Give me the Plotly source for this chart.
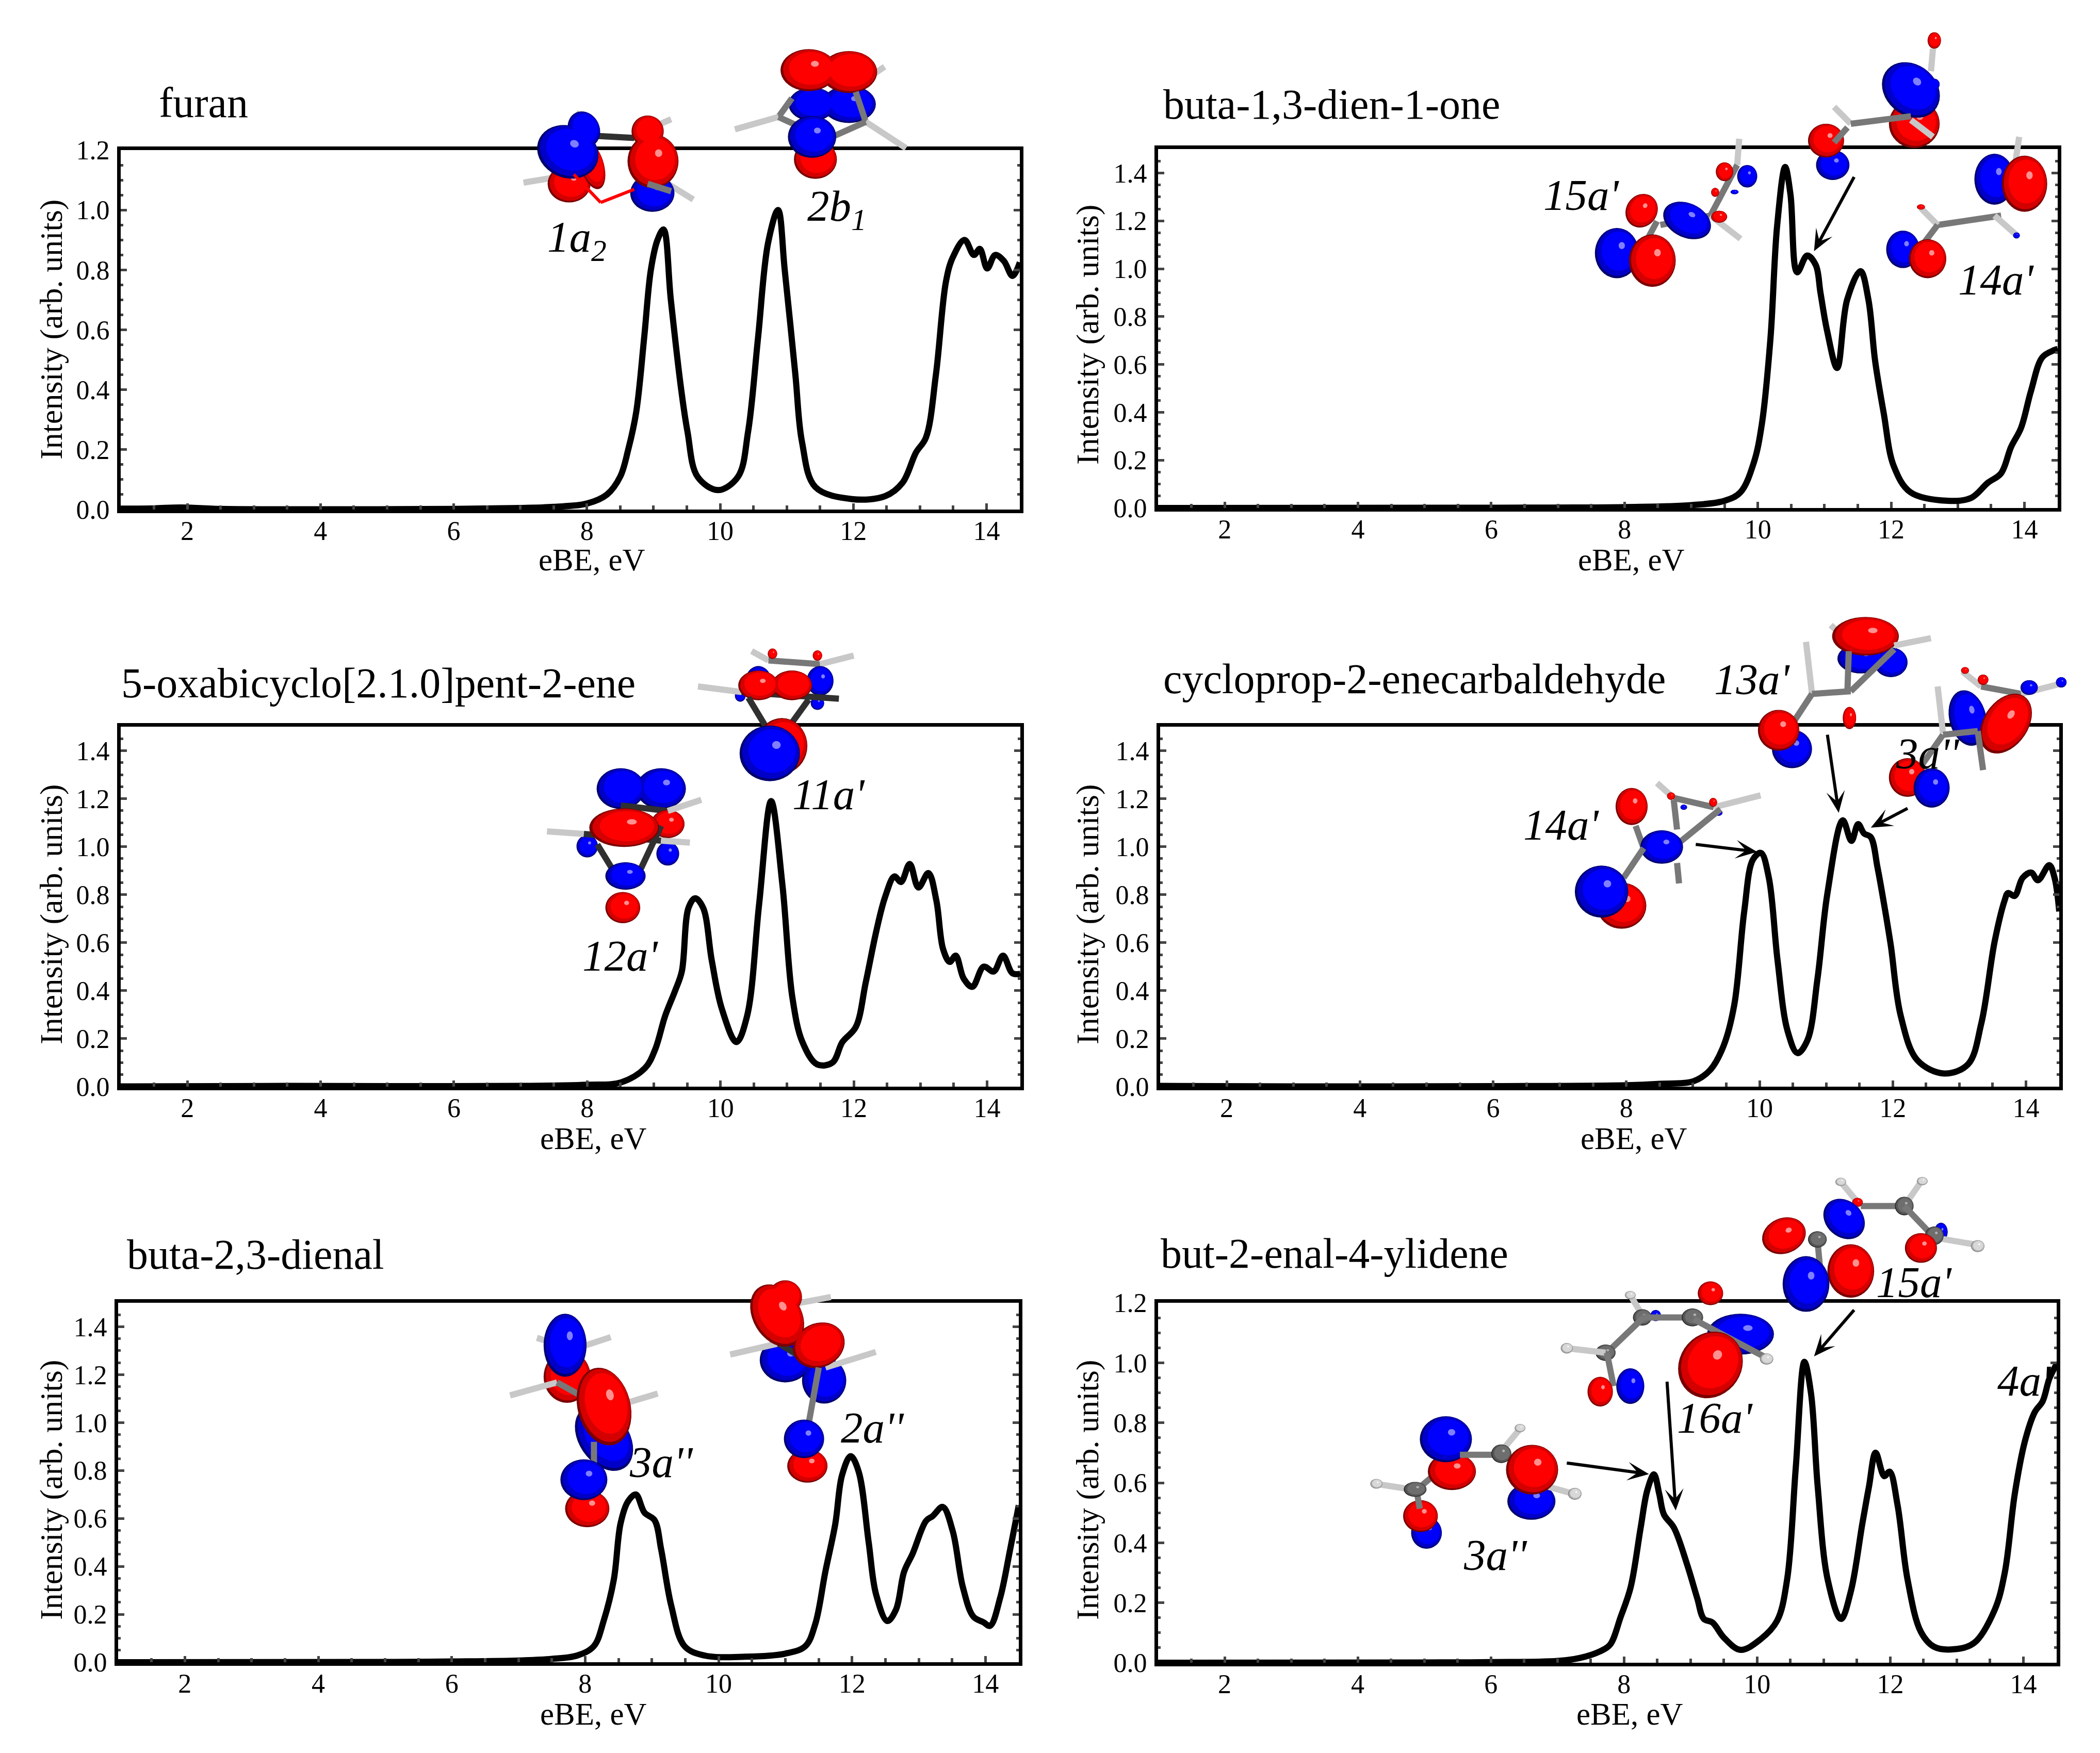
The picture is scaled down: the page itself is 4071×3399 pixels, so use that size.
import numpy as np
import plotly.graph_objects as go

W = 4071
H = 3399

# spectra (eBE in eV, intensity in arb. units)
furan_x = [1, 1.5, 1.9, 2.5, 4, 6, 7, 7.5, 8, 8.3, 8.5, 8.62, 8.74, 8.86, 8.96, 9.06, 9.15, 9.26, 9.41, 9.51, 9.66, 9.97, 10.27, 10.42, 10.57, 10.72, 10.87, 10.97, 11.13, 11.23, 11.43, 11.98, 12.48, 12.74, 12.94, 13.09, 13.24, 13.39, 13.49, 13.67, 13.81, 13.9, 14.01, 14.13, 14.26, 14.39, 14.5]
furan_y = [0.003, 0.004, 0.007, 0.002, 0.001, 0.002, 0.005, 0.009, 0.02, 0.05, 0.11, 0.2, 0.325, 0.575, 0.8, 0.9, 0.935, 0.7, 0.41, 0.26, 0.11, 0.065, 0.11, 0.26, 0.575, 0.89, 1.0, 0.8, 0.45, 0.225, 0.075, 0.035, 0.045, 0.09, 0.19, 0.24, 0.45, 0.76, 0.84, 0.9, 0.85, 0.87, 0.805, 0.85, 0.83, 0.78, 0.825]

butadienone_x = [1, 6, 8, 9, 9.5, 9.74, 9.94, 10.06, 10.19, 10.29, 10.41, 10.49, 10.59, 10.74, 10.87, 10.94, 11.04, 11.19, 11.34, 11.54, 11.66, 11.76, 11.89, 12.04, 12.29, 12.85, 13.2, 13.45, 13.65, 13.8, 13.95, 14.1, 14.27, 14.45, 14.5]
butadienone_y = [0.0, 0.001, 0.004, 0.012, 0.03, 0.066, 0.19, 0.35, 0.71, 1.18, 1.425, 1.31, 0.985, 1.055, 1.015, 0.9, 0.74, 0.585, 0.87, 0.99, 0.87, 0.615, 0.395, 0.175, 0.066, 0.03, 0.042, 0.105, 0.145, 0.255, 0.335, 0.49, 0.63, 0.66, 0.665]

oxabicyclo_x = [1, 3.5, 5, 7, 8, 8.51, 8.87, 9.02, 9.17, 9.32, 9.42, 9.52, 9.62, 9.74, 9.87, 10.02, 10.24, 10.4, 10.58, 10.76, 10.93, 11.08, 11.23, 11.45, 11.68, 11.83, 12.03, 12.18, 12.34, 12.47, 12.61, 12.71, 12.84, 12.97, 13.12, 13.24, 13.34, 13.44, 13.53, 13.65, 13.78, 13.95, 14.1, 14.24, 14.38, 14.5]
oxabicyclo_y = [0.001, 0.003, 0.002, 0.003, 0.008, 0.018, 0.078, 0.155, 0.295, 0.4, 0.48, 0.745, 0.785, 0.745, 0.525, 0.325, 0.186, 0.295, 0.76, 1.19, 0.84, 0.37, 0.186, 0.093, 0.1, 0.186, 0.248, 0.434, 0.65, 0.79, 0.876, 0.853, 0.928, 0.83, 0.89, 0.775, 0.574, 0.52, 0.546, 0.45, 0.416, 0.5, 0.48, 0.546, 0.473, 0.47]

cyclopropene_x = [1, 3, 6, 8, 8.5, 9.01, 9.26, 9.46, 9.62, 9.77, 9.9, 10.02, 10.14, 10.27, 10.42, 10.57, 10.72, 10.87, 11.02, 11.25, 11.38, 11.48, 11.57, 11.67, 11.77, 11.87, 11.97, 12.12, 12.37, 12.77, 13.13, 13.33, 13.53, 13.68, 13.73, 13.83, 13.95, 14.08, 14.18, 14.35, 14.43, 14.5]
cyclopropene_y = [0.003, 0.001, 0.002, 0.006, 0.012, 0.023, 0.07, 0.17, 0.34, 0.73, 0.946, 0.974, 0.87, 0.527, 0.233, 0.14, 0.194, 0.45, 0.807, 1.11, 1.024, 1.094, 1.055, 1.04, 0.915, 0.76, 0.59, 0.295, 0.11, 0.055, 0.093, 0.264, 0.605, 0.776, 0.807, 0.795, 0.87, 0.892, 0.86, 0.923, 0.87, 0.73]

butadienal_x = [1, 5, 6, 7, 7.5, 7.88, 8.13, 8.28, 8.43, 8.53, 8.64, 8.76, 8.89, 9.04, 9.14, 9.29, 9.49, 9.79, 10.4, 11, 11.3, 11.45, 11.6, 11.75, 11.85, 11.98, 12.1, 12.25, 12.36, 12.53, 12.66, 12.78, 12.91, 13.11, 13.21, 13.36, 13.51, 13.66, 13.82, 13.97, 14.07, 14.22, 14.37, 14.5]
butadienal_y = [0.0, 0.001, 0.003, 0.007, 0.014, 0.028, 0.067, 0.175, 0.345, 0.578, 0.67, 0.7, 0.624, 0.593, 0.47, 0.237, 0.067, 0.028, 0.023, 0.036, 0.067, 0.16, 0.377, 0.578, 0.78, 0.86, 0.795, 0.5, 0.284, 0.172, 0.22, 0.377, 0.454, 0.59, 0.61, 0.648, 0.547, 0.315, 0.19, 0.167, 0.152, 0.268, 0.47, 0.655]

butenal_x = [1, 5, 6, 7, 7.34, 7.64, 7.79, 7.95, 8.1, 8.25, 8.35, 8.45, 8.53, 8.6, 8.75, 8.95, 9.1, 9.2, 9.33, 9.5, 9.75, 10.05, 10.3, 10.45, 10.58, 10.71, 10.81, 10.91, 11.06, 11.26, 11.41, 11.58, 11.68, 11.78, 11.91, 11.99, 12.11, 12.26, 12.46, 12.66, 12.96, 13.26, 13.57, 13.72, 13.87, 14.02, 14.17, 14.29, 14.39, 14.5]
butenal_y = [0.0, 0.001, 0.002, 0.006, 0.016, 0.038, 0.06, 0.153, 0.252, 0.45, 0.575, 0.628, 0.562, 0.494, 0.45, 0.326, 0.215, 0.146, 0.134, 0.084, 0.043, 0.078, 0.14, 0.277, 0.649, 1.003, 0.897, 0.587, 0.277, 0.146, 0.24, 0.463, 0.587, 0.7, 0.622, 0.637, 0.525, 0.277, 0.103, 0.053, 0.045, 0.066, 0.177, 0.3, 0.562, 0.736, 0.835, 0.872, 0.947, 0.996]

names = ["furan", "buta-1,3-dien-1-one", "5-oxabicyclo[2.1.0]pent-2-ene",
         "cycloprop-2-enecarbaldehyde", "buta-2,3-dienal", "but-2-enal-4-ylidene"]
xs = [furan_x, butadienone_x, oxabicyclo_x, cyclopropene_x, butadienal_x, butenal_x]
ys = [furan_y, butadienone_y, oxabicyclo_y, cyclopropene_y, butadienal_y, butenal_y]
ymax = [1.2, 1.5, 1.5, 1.5, 1.5, 1.2]

# frame of each panel in page pixels: left, right, top, bottom
frames = [(234, 1977, 291, 988), (2245, 3989, 289, 985), (234, 1978, 1409, 2107),
          (2249, 3992, 1409, 2107), (229, 1975, 2526, 3223), (2245, 3987, 2526, 3224)]
title_pos = [(306, 200), (2253, 203), (233, 1325), (2253, 1316), (244, 2432), (2248, 2430)]
xtitle_pos = [(1147, 1085), (3162, 1085), (1150, 2207), (3167, 2207), (1150, 3323), (3159, 3323)]
ytitle_pos = [(99, 639), (2108, 649), (99, 1773), (2108, 1773), (99, 2889), (2108, 2889)]

# orbital drawings are placed per panel in a 1568x1568 sketch space stretched over the panel's cell
cells = [(0, 0, 2040, 1140), (2040, 0, 2031, 1140), (0, 1140, 2040, 1130),
         (2040, 1140, 2031, 1130), (0, 2270, 2040, 1129), (2040, 2270, 2031, 1129)]

labels = [
    [("1a<sub>2</sub>", 860, 640), ("2b<sub>1</sub>", 1247, 558)],
    [("15a'", 792, 520), ("14a'", 1413, 745)],
    [("12a'", 925, 990), ("11a'", 1235, 555)],
    [("13a'", 1048, 245), ("3a''", 1310, 445), ("14a'", 762, 637)],
    [("3a''", 985, 785), ("2a''", 1300, 692)],
    [("16a'", 992, 665), ("15a'", 1290, 300), ("3a''", 663, 1035), ("4a'", 1455, 565)],
]

arrows = [
    [],
    [(1200, 472, 1140, 670)],
    [],
    [(963, 690, 1055, 710), (1160, 395, 1177, 605), (1280, 593, 1225, 645)],
    [],
    [(770, 787, 893, 817), (920, 568, 933, 915), (1200, 375, 1140, 500)],
]

# r/b = orbital lobe, a = carbon ball, h = hydrogen ball: (kind, [(cx, cy, rx, ry, tilt), ...])
# several ellipses in one entry melt into a single lobe
# s = stick: ("s", x0, y0, x1, y1, colour key)
sketches = [
    [
        ("s", 855, 465, 780, 487, "w"), ("s", 995, 490, 1033, 532, "w"), ("s", 965, 345, 1000, 318, "w"),
        ("s", 880, 335, 858, 300, "w"), ("r", [(848, 490, 32, 50, 0)]), ("r", [(882, 440, 18, 65, 8)]),
        ("b", [(972, 515, 33, 50, 0)]), ("s", 885, 362, 945, 368, "k"),
        ("b", [(870, 345, 24, 48, 5), (846, 405, 45, 72, 8)]), ("s", 855, 465, 895, 540, "o"), ("s", 895, 540, 945, 505, "o"),
        ("r", [(965, 350, 24, 42, 0), (973, 430, 38, 72, 0)]), ("s", 965, 490, 1000, 510, "g"),
        ("b", [(1210, 278, 35, 45, 0), (1265, 278, 40, 50, 0)]), ("s", 1300, 200, 1318, 178, "w"),
        ("r", [(1205, 187, 42, 56, 0), (1265, 192, 42, 56, 0)]),
        ("s", 1180, 262, 1160, 312, "g"), ("s", 1275, 245, 1290, 325, "g"), ("s", 1160, 312, 1095, 345, "w"),
        ("s", 1290, 325, 1350, 395, "w"), ("s", 1160, 312, 1200, 345, "g"), ("s", 1240, 365, 1290, 325, "g"),
        ("r", [(1215, 425, 32, 52, 0)]), ("b", [(1210, 365, 36, 56, 0)]),
    ],
    [
        ("s", 1028, 370, 1025, 440, "w"), ("s", 1025, 440, 985, 575, "g"), ("s", 985, 575, 910, 600, "g"),
        ("s", 985, 575, 1030, 637, "w"), ("b", [(1040, 470, 15, 30, 0)]), ("r", [(1006, 458, 13, 25, 0)]),
        ("r", [(992, 513, 6, 12, 0)]), ("b", [(1021, 512, 6, 6, 0)]), ("r", [(998, 578, 12, 16, 0)]),
        ("r", [(882, 562, 24, 45, -5)]), ("b", [(950, 588, 33, 52, 20)]), ("s", 905, 590, 890, 640, "g"),
        ("b", [(845, 675, 33, 67, 0)]), ("r", [(898, 695, 35, 70, 0)]),
        ("s", 1318, 130, 1315, 190, "w"), ("r", [(1320, 108, 10, 22, 0)]), ("r", [(1290, 330, 38, 65, 0)]),
        ("b", [(1320, 225, 8, 15, 0), (1285, 240, 42, 75, 10)]), ("s", 1170, 285, 1195, 330, "w"),
        ("s", 1195, 330, 1285, 310, "g"), ("s", 1285, 320, 1318, 365, "w"), ("b", [(1168, 440, 25, 40, 0)]),
        ("r", [(1158, 375, 27, 45, 0)]), ("s", 1190, 340, 1170, 380, "g"),
        ("s", 1447, 365, 1440, 450, "w"), ("b", [(1410, 478, 30, 68, 0)]), ("r", [(1455, 490, 34, 75, 0)]),
        ("s", 1420, 575, 1325, 600, "g"), ("s", 1410, 575, 1445, 630, "w"), ("b", [(1443, 628, 5, 8, 0)]),
        ("s", 1325, 600, 1300, 555, "w"), ("r", [(1300, 552, 6, 7, 0)]), ("s", 1325, 600, 1295, 670, "g"),
        ("b", [(1273, 665, 25, 50, 0)]), ("r", [(1310, 690, 28, 52, 0)]),
    ],
    [
        ("b", [(925, 540, 36, 55, 0), (985, 540, 37, 55, 0)]), ("s", 925, 585, 995, 600, "k"), ("r", [(995, 635, 25, 38, 0)]),
        ("b", [(875, 695, 16, 30, 0)]), ("b", [(995, 715, 17, 32, 0)]), ("s", 815, 655, 870, 662, "w"),
        ("s", 870, 662, 985, 680, "k"), ("s", 985, 680, 1028, 685, "w"), ("s", 995, 600, 1045, 570, "w"),
        ("s", 890, 690, 912, 755, "k"), ("s", 985, 640, 955, 755, "k"), ("r", [(930, 645, 52, 52, 0)]),
        ("b", [(932, 775, 30, 37, 0)]), ("r", [(928, 860, 26, 42, 0)]),
        ("s", 1120, 170, 1145, 195, "w"), ("s", 1145, 195, 1222, 205, "g"), ("s", 1222, 205, 1272, 182, "w"),
        ("r", [(1151, 177, 7, 14, 0)]), ("r", [(1218, 182, 7, 14, 0)]), ("b", [(1130, 255, 20, 45, 0)]),
        ("b", [(1222, 250, 20, 40, 0)]), ("b", [(1218, 310, 10, 18, 0)]), ("b", [(1103, 290, 8, 16, 0)]),
        ("s", 1040, 265, 1105, 280, "w"), ("s", 1105, 280, 1250, 298, "k"),
        ("r", [(1130, 262, 30, 40, 0), (1180, 262, 30, 40, 0)]),
        ("s", 1115, 295, 1140, 370, "k"), ("s", 1205, 300, 1175, 375, "k"), ("r", [(1165, 425, 38, 75, 0)]),
        ("b", [(1147, 445, 45, 75, 0)]),
    ],
    [
        ("s", 905, 525, 930, 565, "w"), ("s", 930, 565, 990, 590, "g"), ("s", 990, 590, 1060, 558, "w"),
        ("r", [(926, 560, 6, 10, 0)]), ("r", [(989, 577, 6, 12, 0)]), ("b", [(945, 590, 5, 7, 0)]), ("b", [(997, 605, 6, 8, 0)]),
        ("r", [(867, 588, 24, 50, 0)]), ("s", 930, 570, 935, 650, "g"), ("s", 1000, 595, 935, 690, "g"),
        ("s", 873, 640, 885, 700, "g"), ("b", [(912, 697, 32, 45, 0)]), ("s", 935, 740, 938, 795, "g"),
        ("s", 885, 700, 855, 780, "g"), ("r", [(852, 855, 37, 62, 0)]), ("b", [(822, 817, 40, 70, 0)]),
        ("s", 1165, 100, 1195, 150, "w"), ("b", [(1210, 190, 35, 40, 0), (1255, 200, 25, 40, 0)]),
        ("r", [(1217, 130, 50, 52, 0)]), ("s", 1260, 155, 1315, 135, "w"), ("s", 1128, 145, 1137, 285, "w"),
        ("s", 1137, 285, 1195, 278, "g"), ("s", 1190, 278, 1192, 170, "g"), ("s", 1195, 278, 1260, 165, "g"),
        ("r", [(1193, 350, 10, 30, 0)]), ("s", 1137, 285, 1095, 400, "g"), ("b", [(1107, 433, 30, 52, 0)]),
        ("r", [(1087, 383, 31, 55, 0)]),
        ("s", 1362, 225, 1390, 265, "w"), ("s", 1390, 265, 1450, 285, "g"), ("s", 1450, 285, 1515, 255, "w"),
        ("r", [(1366, 222, 6, 9, 0)]), ("r", [(1393, 247, 8, 14, 0)]), ("b", [(1462, 268, 13, 20, 0)]), ("b", [(1510, 254, 8, 14, 0)]),
        ("s", 1325, 265, 1333, 390, "w"), ("b", [(1370, 350, 28, 75, 5)]), ("r", [(1427, 365, 36, 82, -12)]),
        ("s", 1333, 395, 1300, 480, "g"), ("s", 1333, 395, 1385, 385, "g"), ("s", 1385, 385, 1393, 490, "g"),
        ("r", [(1280, 510, 28, 52, 0)]), ("b", [(1316, 538, 27, 53, 0)]),
    ],
    [
        ("s", 800, 450, 850, 480, "w"), ("s", 910, 448, 860, 478, "w"), ("r", [(845, 555, 35, 70, 0)]),
        ("b", [(842, 470, 32, 85, 0)]), ("s", 760, 605, 830, 570, "w"), ("s", 830, 570, 880, 620, "g"),
        ("s", 925, 630, 980, 600, "w"), ("b", [(900, 720, 40, 90, 12)]), ("r", [(900, 635, 40, 105, 5)]),
        ("s", 885, 730, 885, 790, "g"), ("r", [(875, 910, 33, 50, 0)]), ("b", [(870, 832, 35, 55, 0)]),
        ("s", 1125, 340, 1165, 365, "w"), ("s", 1165, 365, 1238, 340, "w"),
        ("b", [(1170, 510, 38, 60, 0), (1228, 565, 33, 62, 0)]), ("s", 1088, 495, 1160, 465, "w"), ("s", 1160, 465, 1220, 530, "k"),
        ("s", 1230, 530, 1305, 488, "w"), ("r", [(1170, 340, 25, 45, 0), (1158, 390, 38, 85, 10), (1220, 470, 38, 62, -8)]),
        ("s", 1220, 530, 1205, 680, "g"), ("r", [(1203, 795, 30, 45, 0)]),
        ("b", [(1198, 722, 30, 52, 0)]),
    ],
    [
        ("s", 483, 843, 545, 860, "w"), ("b", [(560, 975, 23, 43, 0)]), ("r", [(551, 930, 26, 43, 0)]),
        ("s", 545, 860, 550, 910, "g"), ("s", 545, 860, 610, 760, "g"), ("a", [(543, 858, 17, 20, 0)]),
        ("h", [(485, 843, 9, 13, 0)]), ("r", [(598, 810, 36, 50, 0)]), ("b", [(589, 723, 39, 62, 0)]),
        ("s", 610, 765, 670, 765, "g"), ("s", 670, 760, 700, 695, "w"), ("a", [(672, 762, 15, 25, 0)]),
        ("h", [(700, 693, 8, 11, 0)]), ("b", [(717, 890, 36, 50, 0)]), ("s", 720, 840, 780, 870, "w"),
        ("h", [(782, 870, 10, 16, 0)]), ("r", [(718, 805, 39, 67, 0)]),
        ("s", 865, 335, 885, 395, "w"), ("h", [(865, 335, 8, 11, 0)]), ("a", [(883, 395, 14, 22, 0)]),
        ("b", [(903, 390, 8, 15, 0)]), ("s", 885, 395, 960, 395, "g"), ("a", [(958, 395, 16, 24, 0)]),
        ("r", [(985, 330, 19, 32, 0)]), ("b", [(1030, 440, 50, 55, 0)]), ("s", 885, 395, 830, 490, "g"),
        ("a", [(828, 490, 15, 22, 0)]), ("s", 770, 478, 828, 490, "w"), ("h", [(770, 478, 9, 14, 0)]),
        ("s", 830, 490, 840, 580, "g"), ("b", [(865, 580, 21, 48, 0)]), ("r", [(820, 595, 19, 40, 0)]),
        ("s", 960, 400, 1070, 505, "g"), ("h", [(1069, 507, 10, 15, 0)]), ("r", [(985, 523, 48, 90, -5)]),
        ("s", 1180, 30, 1210, 95, "w"), ("h", [(1180, 30, 8, 11, 0)]), ("s", 1210, 95, 1270, 95, "g"),
        ("r", [(1205, 85, 8, 12, 0)]), ("s", 1275, 95, 1300, 30, "w"), ("h", [(1302, 28, 8, 11, 0)]),
        ("a", [(1275, 95, 14, 25, 0)]), ("b", [(1185, 130, 30, 55, 10)]), ("s", 1275, 95, 1320, 180, "g"),
        ("b", [(1330, 165, 10, 25, 0)]), ("s", 1320, 180, 1385, 200, "w"), ("h", [(1385, 203, 10, 16, 0)]),
        ("a", [(1320, 175, 14, 25, 0)]), ("r", [(1300, 208, 24, 40, 0)]), ("r", [(1095, 175, 32, 50, -10)]),
        ("s", 1145, 185, 1150, 280, "g"), ("a", [(1145, 185, 14, 22, 0)]), ("r", [(1195, 270, 35, 72, 0)]),
        ("b", [(1128, 305, 35, 75, 0)]),
    ],
]

stick_colors = {"w": "#c8c8c8", "g": "#787878", "k": "#303030", "o": "#ff0000"}
shades = {
    "r": ("#7a0000", "#d40000", "#ff0000", "#ff9090"),
    "b": ("#00006e", "#0000c8", "#0000ff", "#8080ff"),
    "a": ("#2a2a2a", "#555555", "#6e6e6e", "#b0b0b0"),
    "h": ("#777777", "#b0b0b0", "#d8d8d8", "#ffffff"),
}

shapes = []
annotations = []


def to_page(cell, x, y):
    ox, oy, cw, ch = cell
    return ox + x * cw / 1568, oy + y * ch / 1568


def ellipse_path(cell, cx, cy, rx, ry, tilt):
    t = np.linspace(0, 2 * np.pi, 40, endpoint=False)
    a = np.radians(tilt)
    ex = rx * np.cos(t)
    ey = ry * np.sin(t)
    px = cx + ex * np.cos(a) + ey * np.sin(a)
    py = cy - ex * np.sin(a) + ey * np.cos(a)
    pts = []
    for x, y in zip(px, py):
        gx, gy = to_page(cell, x, y)
        pts.append(f"{gx / W:.5f},{1 - gy / H:.5f}")
    return "M" + "L".join(pts) + "Z"


def add_lobe(cell, kind, parts):
    dark, mid, bright, glint = shades[kind]
    # stacked ellipses give the shaded look of the rendered lobes
    layers = [(0, 0, 1, dark), (0.03, -0.03, 0.94, mid), (0.08, -0.08, 0.78, bright)]
    for dx, dy, k, col in layers:
        for cx, cy, rx, ry, tilt in parts:
            shapes.append(dict(type="path", xref="paper", yref="paper", layer="above",
                               path=ellipse_path(cell, cx + dx * rx, cy + dy * ry, rx * k, ry * k, tilt),
                               fillcolor=col, line=dict(width=0)))
    cx, cy, rx, ry, tilt = max(parts, key=lambda p: p[2] * p[3])
    shapes.append(dict(type="path", xref="paper", yref="paper", layer="above",
                       path=ellipse_path(cell, cx + 0.22 * rx, cy - 0.3 * ry, rx * 0.14, ry * 0.14, tilt),
                       fillcolor=glint, line=dict(width=0)))


def add_stick(cell, x0, y0, x1, y1, key):
    ax, ay = to_page(cell, x0, y0)
    bx, by = to_page(cell, x1, y1)
    shapes.append(dict(type="line", xref="paper", yref="paper", layer="above",
                       x0=ax / W, y0=1 - ay / H, x1=bx / W, y1=1 - by / H,
                       line=dict(color=stick_colors[key], width=12 if key != "o" else 6)))


def add_arrow(cell, x0, y0, x1, y1):
    ax, ay = to_page(cell, x0, y0)
    bx, by = to_page(cell, x1, y1)
    d = np.array([bx - ax, by - ay])
    d = d / np.hypot(*d)
    n = np.array([-d[1], d[0]])
    tip = np.array([bx, by])
    neck = tip - d * 22
    shapes.append(dict(type="line", xref="paper", yref="paper", layer="above",
                       x0=ax / W, y0=1 - ay / H, x1=neck[0] / W, y1=1 - neck[1] / H,
                       line=dict(color="black", width=6)))
    pts = [tip, tip - d * 42 + n * 18, neck, tip - d * 42 - n * 18]
    path = "M" + "L".join(f"{p[0] / W:.5f},{1 - p[1] / H:.5f}" for p in pts) + "Z"
    shapes.append(dict(type="path", xref="paper", yref="paper", layer="above",
                       path=path, fillcolor="black", line=dict(width=0)))


def add_text(text, px, py, size, xanchor="center", angle=0):
    annotations.append(dict(text=text, x=px / W, y=1 - py / H, xref="paper", yref="paper",
                            xanchor=xanchor, yanchor="middle", showarrow=False, textangle=angle,
                            font=dict(family="Liberation Serif", size=size, color="black")))


fig = go.Figure()

for i in range(6):
    n = "" if i == 0 else str(i + 1)
    left, right, top, bottom = frames[i]
    fig.add_trace(go.Scatter(x=xs[i], y=ys[i], mode="lines", xaxis="x" + n, yaxis="y" + n,
                             line=dict(color="black", width=12, shape="spline", smoothing=1.0),
                             cliponaxis=False, showlegend=False))
    fig.update_layout({
        "xaxis" + n: dict(
            domain=[left / W, right / W], anchor="y" + n, range=[1, 14.5], automargin=False,
            tick0=2, dtick=2, ticks="inside", ticklen=12, tickwidth=5,
            minor=dict(dtick=0.5, ticks="inside", ticklen=8, tickwidth=5, showgrid=False),
            showline=True, linecolor="black", linewidth=7, mirror=True, showgrid=False, zeroline=False,
            tickfont=dict(family="Liberation Serif", size=52, color="black"), ticklabelstandoff=-10,
        ),
        "yaxis" + n: dict(
            domain=[1 - bottom / H, 1 - top / H], anchor="x" + n, range=[0, ymax[i]], automargin=False,
            tick0=0, dtick=0.2, tickformat=".1f", ticks="inside", ticklen=12, tickwidth=5,
            minor=dict(dtick=0.05, ticks="inside", ticklen=5, tickwidth=5, showgrid=False),
            showline=True, linecolor="black", linewidth=7, mirror="ticks", showgrid=False, zeroline=False,
            tickfont=dict(family="Liberation Serif", size=52, color="black"), ticklabelstandoff=4,
        ),
    })

    add_text(names[i], title_pos[i][0], title_pos[i][1], 82, xanchor="left")
    add_text("eBE, eV", xtitle_pos[i][0], xtitle_pos[i][1], 61)
    add_text("Intensity (arb. units)", ytitle_pos[i][0], ytitle_pos[i][1], 62, angle=-90)

    cell = cells[i]
    for item in sketches[i]:
        if item[0] == "s":
            add_stick(cell, *item[1:])
        else:
            add_lobe(cell, *item)
    for a in arrows[i]:
        add_arrow(cell, *a)
    for text, lx, ly in labels[i]:
        gx, gy = to_page(cell, lx, ly)
        add_text("<i>" + text + "</i>", gx, gy, 85)

fig.update_layout(width=W, height=H, margin=dict(l=0, r=0, t=0, b=0, pad=0), showlegend=False,
                  paper_bgcolor="white", plot_bgcolor="white", shapes=shapes, annotations=annotations)

fig.write_html("out.html", config={"displayModeBar": False}, post_script="document.body.style.margin='0';")
